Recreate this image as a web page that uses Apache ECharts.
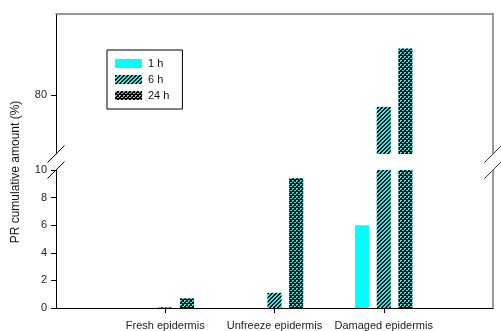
<!DOCTYPE html>
<html>
<head>
<meta charset="utf-8">
<script src="https://cdn.jsdelivr.net/npm/echarts@6/dist/echarts.min.js"></script>
<style>
  html, body { margin: 0; padding: 0; background: #fff; }
  #chart { width: 501px; height: 331px; }
</style>
</head>
<body>
<div id="chart"></div>
<script>
// Sample groups and cumulative PR release (%) after each time point
const categories = ['Fresh epidermis', 'Unfreeze epidermis', 'Damaged epidermis'];
const seriesNames = ['1 h', '6 h', '24 h'];
const values1h = [0, 0, 6.0];
const values6h = [0.05, 1.1, 77.1];
const values24h = [0.7, 9.4, 91.5];
const lowerTicks = [0, 2, 4, 6, 8, 10];
const upperTicks = [80];

const FONT = 'Liberation Sans, Arial, sans-serif';
const CYAN = '#00ffff';

// Small repeating fills: diagonal hatch for 6 h, dotted weave for 24 h
function makePattern(isBlack) {
  const c = document.createElement('canvas');
  c.width = 4; c.height = 4;
  const g = c.getContext('2d');
  for (let y = 0; y < 4; y++) {
    for (let x = 0; x < 4; x++) {
      g.fillStyle = isBlack(x, y) ? '#000' : CYAN;
      g.fillRect(x, y, 1, 1);
    }
  }
  return { image: c, repeat: 'repeat' };
}
const hatch = makePattern((x, y) => ((x + y) % 4) < 2);
const cyanDots = [[0, 0], [1, 0], [2, 2], [3, 2], [0, 1]];
const weave = makePattern((x, y) => !cyanDots.some(p => p[0] === x && p[1] === y));
const fills = [CYAN, hatch, weave];
const seriesValues = [values1h, values6h, values24h];

// Category axis padded with empty slots at both ends so groups sit at 1/4, 2/4, 3/4
const axisCats = [''].concat(categories, ['']);
const pad = arr => [null].concat(arr, [null]);

const G = { left: 56, right: 8, upperTop: 14, upperH: 140, lowerTop: 170, lowerH: 140 };

const chart = echarts.init(document.getElementById('chart'), null, { renderer: 'canvas' });

const series = [];
[0, 1].forEach(gi => {
  seriesNames.forEach((name, i) => {
    series.push({
      name: name,
      type: 'bar',
      xAxisIndex: gi,
      yAxisIndex: gi * 2,
      barWidth: 14,
      barGap: '55%',
      clip: true,
      silent: true,
      itemStyle: { color: fills[i] },
      data: pad(seriesValues[i])
    });
  });
});

const tickStyle = { color: '#000', width: 1 };
const labelStyle = { color: '#222', fontFamily: FONT, fontSize: 11 };

const option = {
  animation: false,
  backgroundColor: '#fff',
  grid: [
    { left: G.left, right: G.right, top: G.upperTop, height: G.upperH },
    { left: G.left, right: G.right, top: G.lowerTop, height: G.lowerH }
  ],
  legend: {
    data: seriesNames.map(n => ({ name: n, icon: 'rect' })),
    orient: 'vertical',
    left: 107,
    top: 50,
    padding: [8, 13, 8, 8],
    itemWidth: 27,
    itemHeight: 9,
    itemGap: 5,
    borderColor: '#000',
    borderWidth: 1,
    selectedMode: false,
    textStyle: { color: '#111', fontFamily: FONT, fontSize: 11, padding: [0, 0, 0, 1] }
  },
  xAxis: [
    {
      type: 'category', gridIndex: 0, data: axisCats, boundaryGap: false,
      position: 'top',
      axisLine: { show: true, lineStyle: { color: '#777', width: 1.5 } },
      axisTick: { show: false }, axisLabel: { show: false }, splitLine: { show: false }
    },
    {
      type: 'category', gridIndex: 1, data: axisCats, boundaryGap: false,
      axisLine: { show: true, lineStyle: { color: '#000', width: 1.2 } },
      axisTick: {
        show: true, length: 5, lineStyle: tickStyle,
        interval: (idx, val) => val !== ''
      },
      axisLabel: Object.assign({ margin: 12, interval: 0 }, labelStyle),
      splitLine: { show: false }
    }
  ],
  yAxis: [
    {
      type: 'value', gridIndex: 0, min: 65.5, max: 100,
      axisLine: { show: true, lineStyle: { color: '#000', width: 1 } },
      axisTick: { show: true, length: 5, inside: false, lineStyle: tickStyle, customValues: upperTicks },
      axisLabel: Object.assign({ margin: 9, customValues: upperTicks }, labelStyle),
      splitLine: { show: false }
    },
    {
      type: 'value', gridIndex: 0, position: 'right', min: 65.5, max: 100,
      axisLine: { show: true, lineStyle: { color: '#777', width: 1.5 } },
      axisTick: { show: false }, axisLabel: { show: false }, splitLine: { show: false }
    },
    {
      type: 'value', gridIndex: 1, min: 0, max: 10, interval: 2,
      axisLine: { show: true, lineStyle: { color: '#000', width: 1 } },
      axisTick: { show: true, length: 5, lineStyle: tickStyle, customValues: lowerTicks },
      axisLabel: Object.assign({ margin: 9, customValues: lowerTicks }, labelStyle),
      splitLine: { show: false }
    },
    {
      type: 'value', gridIndex: 1, position: 'right', min: 0, max: 10,
      axisLine: { show: true, lineStyle: { color: '#777', width: 1.5 } },
      axisTick: { show: false }, axisLabel: { show: false }, splitLine: { show: false }
    }
  ],
  series: series
};

// Axis break marks: short slanted strokes where each axis is cut
const W = 501;
const upperBottom = G.upperTop + G.upperH;
const rightX = W - G.right;
function slash(cx, cy, color) {
  return {
    type: 'line', silent: true,
    shape: { x1: cx - 8.5, y1: cy + 8.5, x2: cx + 8.5, y2: cy - 8.5 },
    style: { stroke: color, lineWidth: 1 }
  };
}
option.graphic = [
  slash(G.left, upperBottom, '#000'),
  slash(G.left, G.lowerTop, '#000'),
  slash(rightX, upperBottom, '#333'),
  slash(rightX, G.lowerTop, '#333'),
  {
    type: 'text', silent: true,
    x: 16, y: 172, rotation: Math.PI / 2,
    style: {
      text: 'PR cumulative amount (%)',
      fill: '#111', font: '12px ' + FONT,
      align: 'center', verticalAlign: 'middle'
    }
  }
];

chart.setOption(option);
</script>
</body>
</html>
